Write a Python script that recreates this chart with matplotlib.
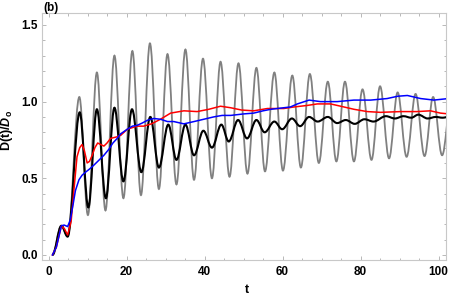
import matplotlib
matplotlib.use("Agg")
import matplotlib.pyplot as plt
from matplotlib.path import Path
from matplotlib.patches import PathPatch
from matplotlib.ticker import MultipleLocator

# local extrema (t, D/Do)
gray_t = [1.0, 3.3, 4.9, 7.9, 10.1, 12.4, 14.6, 16.9, 19.2, 21.5, 23.7, 26.0, 28.3,
          30.5, 32.8, 35.1, 37.3, 39.6, 41.9, 44.1, 46.4, 48.7, 51.0, 53.3, 55.5,
          57.9, 60.1, 62.5, 64.7, 67.0, 69.3, 71.6, 73.8, 76.0, 78.3, 80.5, 82.8,
          85.0, 87.3, 89.5, 91.8, 94.1, 96.4, 98.6, 100.9, 103.2]
gray_y = [0.0, 0.19, 0.12, 1.03, 0.26, 1.19, 0.29, 1.30, 0.37, 1.33, 0.39, 1.38, 0.43,
          1.31, 0.46, 1.34, 0.49, 1.28, 0.50, 1.26, 0.51, 1.25, 0.53, 1.22, 0.545,
          1.19, 0.55, 1.17, 0.57, 1.18, 0.60, 1.13, 0.61, 1.13, 0.61, 1.08, 0.62,
          1.10, 0.63, 1.06, 0.64, 1.05, 0.645, 1.03, 0.65, 1.0]

black_t = [1.0, 3.3, 4.9, 8.0, 10.2, 12.4, 14.7, 16.9, 19.2, 21.4, 23.8, 26.1, 28.3,
           30.7, 32.8, 35.1, 37.3, 39.7, 41.9, 44.3, 46.2, 48.6, 50.9, 53.3, 55.4,
           57.9, 59.9, 62.4, 64.5, 66.8, 69.0, 71.6, 74.0, 76.2, 78.5, 81.0, 83.3,
           86.5, 88.8, 91.0, 93.0, 94.8, 97.2, 99.3, 101.0, 102.5]
black_y = [0.0, 0.19, 0.12, 0.93, 0.31, 0.95, 0.37, 0.96, 0.48, 0.95, 0.54, 0.90, 0.57,
           0.85, 0.62, 0.85, 0.65, 0.81, 0.70, 0.85, 0.74, 0.88, 0.76, 0.88, 0.80,
           0.87, 0.82, 0.89, 0.84, 0.90, 0.87, 0.90, 0.86, 0.88, 0.855, 0.885, 0.87,
           0.905, 0.89, 0.905, 0.895, 0.915, 0.89, 0.90, 0.895, 0.90]

red_t = [1.0, 2.0, 3.3, 4.1, 4.9, 5.8, 6.5, 7.3, 8.0, 8.6, 9.2, 9.9, 10.5, 11.2, 11.9,
         12.6, 13.4, 14.2, 15.0, 15.9, 17.5, 18.5, 20.2, 22.7, 24.4, 26.4, 28.7,
         31.3, 34.7, 38.1, 41.1, 44.1, 46.7, 49.5, 52.6, 56.1, 60.3, 62.9, 66.3,
         68.9, 72.3, 74.9, 78.3, 81.7, 85.1, 90.3, 94.5, 97.9, 100.5, 102.5]
red_y = [0.0, 0.05, 0.19, 0.17, 0.13, 0.22, 0.42, 0.64, 0.70, 0.72, 0.68, 0.60, 0.61,
         0.65, 0.70, 0.73, 0.72, 0.71, 0.73, 0.76, 0.77, 0.78, 0.82, 0.84, 0.84, 0.855,
         0.885, 0.925, 0.94, 0.935, 0.95, 0.97, 0.96, 0.945, 0.94, 0.955, 0.955,
         0.965, 0.975, 0.985, 0.985, 0.97, 0.95, 0.935, 0.93, 0.935, 0.935, 0.94,
         0.925, 0.92]

blue_t = [1.0, 2.0, 3.3, 4.0, 4.9, 5.6, 6.3, 6.9, 7.8, 8.6, 9.5, 10.5, 11.6, 13.0,
          14.2, 15.5, 16.5, 17.6, 18.5, 20.2, 21.5, 22.7, 24.0, 25.5, 27.0, 28.7,
          30.5, 32.1, 34.7, 37.3, 39.8, 42.3, 44.5, 46.7, 50.1, 52.6, 55.0, 57.0,
          60.3, 62.0, 63.8, 66.8, 69.7, 74.0, 78.3, 82.6, 86.8, 89.5, 92.0, 95.4,
          98.8, 102.5]
blue_y = [0.0, 0.05, 0.19, 0.195, 0.185, 0.23, 0.33, 0.42, 0.49, 0.52, 0.54, 0.56,
          0.585, 0.62, 0.65, 0.69, 0.73, 0.76, 0.79, 0.82, 0.84, 0.845, 0.86, 0.88,
          0.89, 0.885, 0.87, 0.87, 0.855, 0.87, 0.885, 0.90, 0.91, 0.91, 0.92, 0.925,
          0.94, 0.95, 0.96, 0.965, 0.985, 1.01, 1.0, 1.0, 1.01, 1.01, 1.02, 1.035,
          1.04, 1.02, 1.01, 1.02]


def extrema_path(ts, ys):
    # cubic bezier through extrema with flat tangents (half-sine like shape)
    k = 0.3634
    verts = [(ts[0], ys[0])]
    codes = [Path.MOVETO]
    for i in range(1, len(ts)):
        d = (ts[i] - ts[i - 1]) * k
        verts += [(ts[i - 1] + d, ys[i - 1]), (ts[i] - d, ys[i]), (ts[i], ys[i])]
        codes += [Path.CURVE4] * 3
    return Path(verts, codes)


plt.rcParams['font.family'] = ['Liberation Sans', 'DejaVu Sans']
plt.rcParams['font.weight'] = 'bold'
plt.rcParams['mathtext.fontset'] = 'custom'
plt.rcParams['mathtext.rm'] = 'Liberation Sans:bold'
plt.rcParams['mathtext.bf'] = 'Liberation Sans:bold'
plt.rcParams['mathtext.it'] = 'Liberation Sans:italic:bold'
plt.rcParams['mathtext.bfit'] = 'Liberation Sans:italic:bold'

fig = plt.figure(figsize=(4.5, 2.96), dpi=100)
ax = fig.add_axes([41.5 / 450, 36 / 296, 404.5 / 450, 247 / 296])

ax.add_patch(PathPatch(extrema_path(gray_t, gray_y), facecolor='none',
                       edgecolor='#808080', lw=1.3, zorder=2))
ax.add_patch(PathPatch(extrema_path(black_t, black_y), facecolor='none',
                       edgecolor='black', lw=1.5, zorder=3))
ax.plot(red_t, red_y, color='#ff0000', lw=1.1, zorder=4)
ax.plot(blue_t, blue_y, color='#0000ff', lw=1.1, zorder=5)

ax.set_xlim(-1.8, 101.9)
ax.set_ylim(-0.033, 1.578)
ax.set_xticks([0, 20, 40, 60, 80, 100])
ax.set_yticks([0.0, 0.5, 1.0, 1.5])
ax.set_yticklabels(['0.0', '0.5', '1.0', '1.5'])
ax.xaxis.set_minor_locator(MultipleLocator(5))
ax.yaxis.set_minor_locator(MultipleLocator(0.1))
ax.tick_params(which='both', direction='in', top=True, right=True,
               color='#b8b8b8', width=0.7, labelsize=8.5)
ax.tick_params(which='major', length=3.2)
ax.tick_params(which='minor', length=1.8)
ax.tick_params(axis='x', pad=4)
ax.tick_params(axis='y', pad=2.5)
for s in ax.spines.values():
    s.set_color('#c8c8c8')
    s.set_linewidth(0.8)

fig.text(247 / 450, 1 - 290 / 296, 't', ha='center', va='center', fontsize=9)
fig.text(7 / 450, 1 - 130 / 296, r'D(t)/$\boldsymbol{D}_{\mathbf{o}}$', rotation=90,
         ha='center', va='center', fontsize=9)
fig.text(43 / 450, 1 - 2 / 296, '(b)', ha='left', va='top', fontsize=8.5)

fig.savefig('out.png', dpi=100)
